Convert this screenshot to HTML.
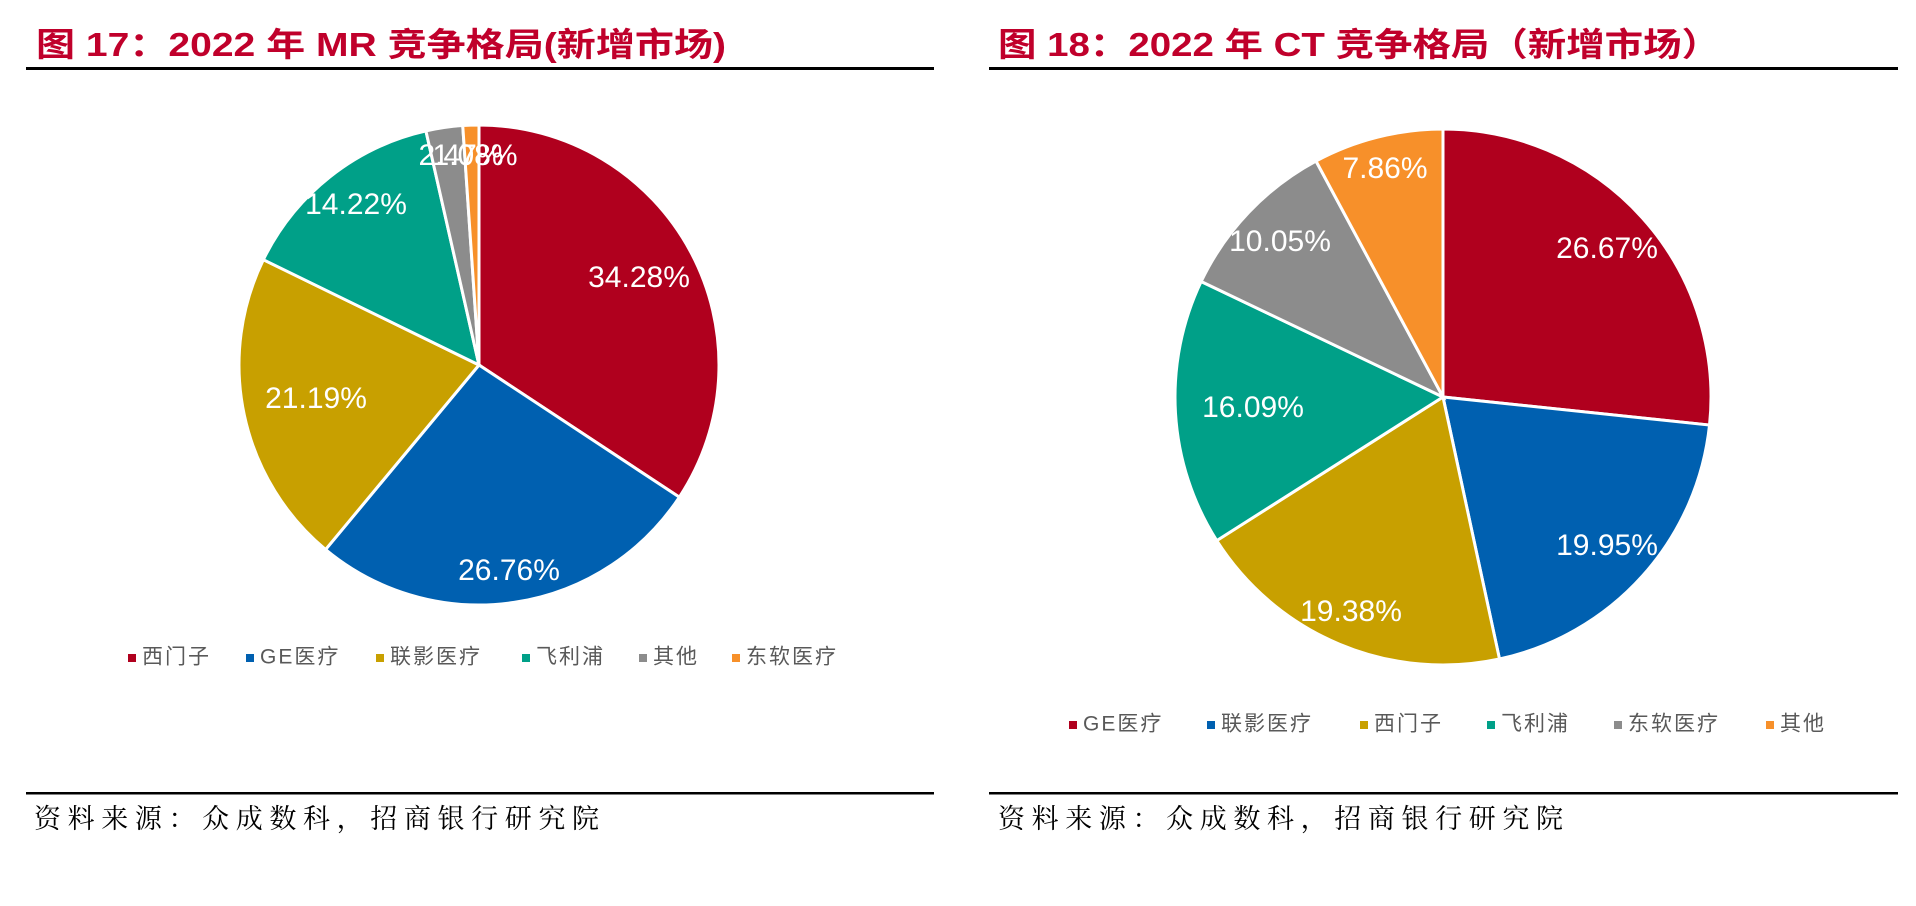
<!DOCTYPE html>
<html><head><meta charset="utf-8"><style>
html,body{margin:0;padding:0;background:#fff;width:1916px;height:906px;overflow:hidden}
svg{display:block}
.t{font-family:"Liberation Sans","Noto Sans CJK SC",sans-serif;font-weight:bold;fill:#C0002B;font-size:33px}
.lab{font-family:"Liberation Sans",sans-serif;fill:#fff;font-size:30px;text-anchor:middle;dominant-baseline:middle}
.lg{font-family:"Liberation Sans","Noto Sans CJK SC",sans-serif;fill:#595959;font-size:21px;dominant-baseline:middle}
.src{font-family:"Liberation Serif","Noto Serif CJK SC",serif;fill:#000;font-size:27px}
</style></head><body>
<svg id="s" width="1916" height="906" xmlns="http://www.w3.org/2000/svg">
<text class="t" x="36" y="56" textLength="690" lengthAdjust="spacingAndGlyphs">图 17：2022 年 MR 竞争格局(新增市场)</text>
<rect x="26" y="67" width="908" height="3" fill="#000"/>
<text class="t" x="998" y="56" textLength="722" lengthAdjust="spacingAndGlyphs">图 18：2022 年 CT 竞争格局（新增市场）</text>
<rect x="989" y="67" width="909" height="3" fill="#000"/>
<g id="p1"></g><g id="p2"></g>
<text class="lab" x="639" y="279">34.28%</text>
<text class="lab" x="509" y="572">26.76%</text>
<text class="lab" x="316" y="400">21.19%</text>
<text class="lab" x="356" y="206">14.22%</text>
<text class="lab" x="461" y="157">2.47%</text>
<text class="lab" x="475" y="157">1.08%</text>
<text class="lab" x="1607" y="250">26.67%</text>
<text class="lab" x="1607" y="547">19.95%</text>
<text class="lab" x="1351" y="613">19.38%</text>
<text class="lab" x="1253" y="409">16.09%</text>
<text class="lab" x="1280" y="243">10.05%</text>
<text class="lab" x="1385" y="170">7.86%</text>
<g id="lg"></g>
<rect x="26" y="792" width="908" height="2.5" fill="#000"/>
<rect x="989" y="792" width="909" height="2.5" fill="#000"/>
<text class="src" x="34" y="828" textLength="565" lengthAdjust="spacing">资料来源：众成数科，招商银行研究院</text>
<text class="src" x="998" y="828" textLength="565" lengthAdjust="spacing">资料来源：众成数科，招商银行研究院</text>
</svg>
<script>
var R='#B0001E',B='#0060B0',G='#C8A000',T='#00A088',Y='#8C8C8C',O='#F7902A';
function pie(id,cx,cy,r,vals,cols){var g=document.getElementById(id),a=0,tot=vals.reduce((x,y)=>x+y,0),h='';
vals.forEach(function(v,i){var a2=a+v/tot*2*Math.PI;
var x1=cx+r*Math.sin(a),y1=cy-r*Math.cos(a),x2=cx+r*Math.sin(a2),y2=cy-r*Math.cos(a2);
h+='<path d="M'+cx+','+cy+'L'+x1+','+y1+'A'+r+','+r+' 0 '+((a2-a)>Math.PI?1:0)+' 1 '+x2+','+y2+'Z" fill="'+cols[i]+'" stroke="#fff" stroke-width="3"/>';a=a2;});
g.innerHTML=h;}
pie('p1',479,365,240,[34.28,26.76,21.19,14.22,2.47,1.08],[R,B,G,T,Y,O]);
pie('p2',1443,397,268,[26.67,19.95,19.38,16.09,10.05,7.86],[R,B,G,T,Y,O]);
var lg='';
function leg(y,items){items.forEach(function(it){lg+='<rect x="'+it[0]+'" y="'+(y-4)+'" width="8" height="8" fill="'+it[2]+'"/><text class="lg" x="'+(it[0]+14)+'" y="'+y+'" letter-spacing="2">'+it[1]+'</text>';});}
leg(658,[[128,'西门子',R],[246,'GE医疗',B],[376,'联影医疗',G],[522,'飞利浦',T],[639,'其他',Y],[732,'东软医疗',O]]);
leg(725,[[1069,'GE医疗',R],[1207,'联影医疗',B],[1360,'西门子',G],[1487,'飞利浦',T],[1614,'东软医疗',Y],[1766,'其他',O]]);
document.getElementById('lg').innerHTML=lg;
</script>
</body></html>
